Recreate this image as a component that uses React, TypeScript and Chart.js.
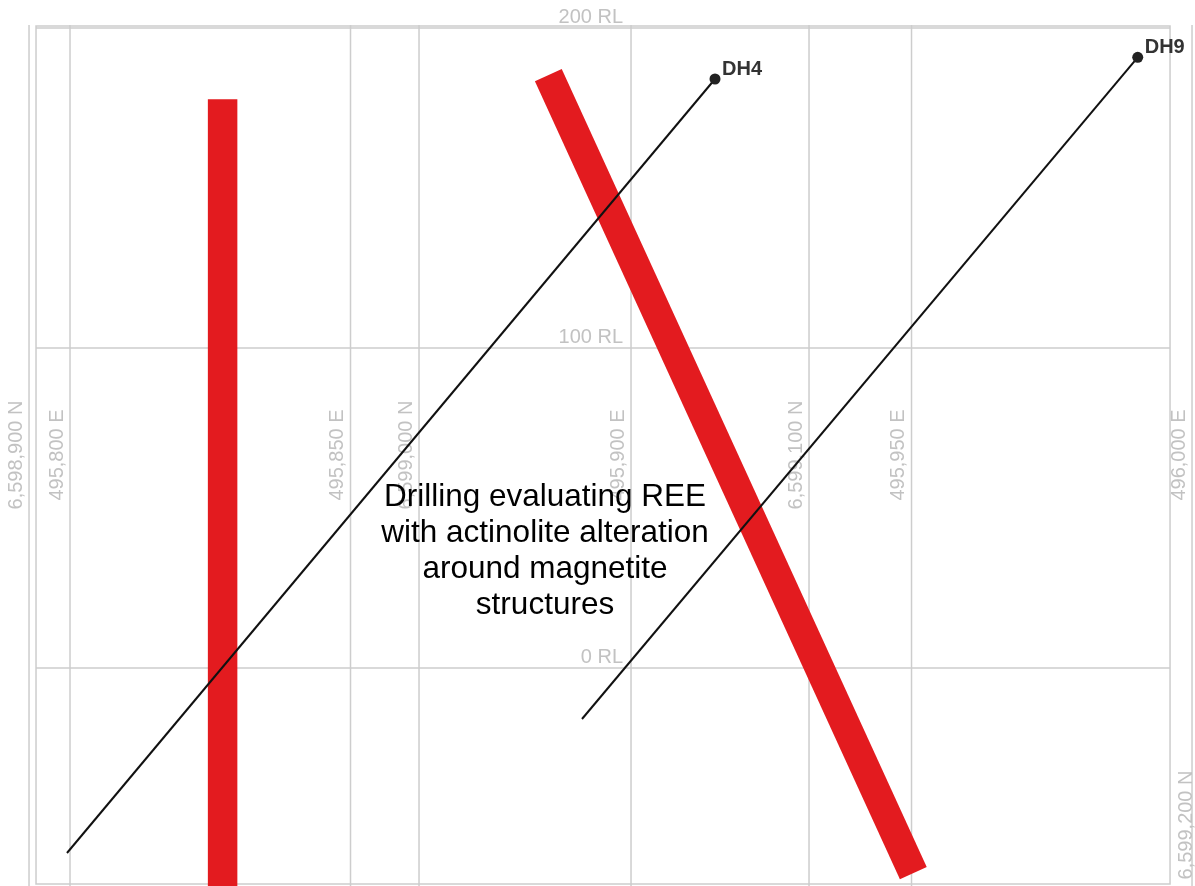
import React, { useEffect, useRef } from 'react';
import { Chart, registerables } from 'chart.js';

Chart.register(...registerables);

// ---- data ----
const eastingTicks = [495800, 495850, 495900, 495950, 496000];
const northingTicks = [6598900, 6599000, 6599100, 6599200];
const rlTicks = [200, 100, 0];

const holeNames = ['DH4', 'DH9'];
const dh4Trace = [
  { x: 495914.97, y: 184.06 },
  { x: 495799.46, y: -57.81 },
];
const dh9Trace = [
  { x: 495990.32, y: 190.85 },
  { x: 495891.26, y: -15.94 },
];
const structureWest = [
  { x: 495827.2, y: 177.7 },
  { x: 495827.2, y: -90 },
];
const structureEast = [
  { x: 495885.26, y: 185.25 },
  { x: 495950.32, y: -64.13 },
];

const noteLines = [
  'Drilling evaluating REE',
  'with actinolite alteration',
  'around magnetite',
  'structures',
];
const noteAnchor = { x: 495884.67, y: 50.6 };

// axis ranges
const eastRange = [495787.52, 496000.53];
const northRange = [6598892.56, 6599198.97];
const rlRange = [-68.125, 208.75];
const frameEast = [495793.94, 495996.08];
const frameRL = [-67.5, 200.625];
const gridLabelRL = [66.56, 66.56, 66.56, -49.06]; // label centre RL for N lines
const eastLabelRL = 66.56;

const FONT = 'Arial, "Liberation Sans", sans-serif';
const gridColor = '#cdcdcd';
const labelColor = '#c2c2c2';
const red = '#e31b1f';

const fmt = (v: number) => v.toLocaleString('en-US');

const sectionPlugin = {
  id: 'sectionGrid',
  beforeDatasetsDraw(chart: any) {
    const { ctx } = chart;
    const xs = chart.scales.x;
    const xn = chart.scales.xN;
    const ys = chart.scales.y;
    const fl = xs.getPixelForValue(frameEast[0]);
    const fr = xs.getPixelForValue(frameEast[1]);
    const ft = ys.getPixelForValue(frameRL[1]);
    const fb = ys.getPixelForValue(frameRL[0]);
    ctx.save();
    ctx.strokeStyle = gridColor;
    ctx.lineWidth = 1.5;
    const vline = (px: number) => {
      ctx.beginPath();
      ctx.moveTo(px, ft - 1);
      ctx.lineTo(px, chart.height);
      ctx.stroke();
    };
    eastingTicks.forEach((e) => vline(xs.getPixelForValue(e)));
    northingTicks.forEach((n) => vline(xn.getPixelForValue(n)));
    rlTicks.forEach((r) => {
      const py = ys.getPixelForValue(r);
      ctx.beginPath();
      ctx.moveTo(fl, py);
      ctx.lineTo(fr, py);
      ctx.stroke();
    });
    ctx.strokeRect(fl, ft, fr - fl, fb - ft);

    // labels
    ctx.fillStyle = labelColor;
    ctx.font = `20px ${FONT}`;
    ctx.textAlign = 'right';
    ctx.textBaseline = 'alphabetic';
    const rlX = xs.getPixelForValue(495900) - 8;
    rlTicks.forEach((r) => {
      ctx.fillText(`${r} RL`, rlX, ys.getPixelForValue(r) - 5);
    });
    const vlabel = (text: string, px: number, py: number) => {
      ctx.save();
      ctx.translate(px, py);
      ctx.rotate(-Math.PI / 2);
      ctx.textAlign = 'center';
      ctx.textBaseline = 'middle';
      ctx.fillText(text, 0, 0);
      ctx.restore();
    };
    eastingTicks.forEach((e) =>
      vlabel(`${fmt(e)} E`, xs.getPixelForValue(e) - 13, ys.getPixelForValue(eastLabelRL))
    );
    northingTicks.forEach((n, i) =>
      vlabel(`${fmt(n)} N`, xn.getPixelForValue(n) - 13, ys.getPixelForValue(gridLabelRL[i]))
    );
    ctx.restore();
  },
  afterDatasetsDraw(chart: any) {
    const { ctx } = chart;
    const xs = chart.scales.x;
    const ys = chart.scales.y;
    ctx.save();
    ctx.fillStyle = '#333333';
    ctx.font = `bold 20px ${FONT}`;
    ctx.textAlign = 'left';
    ctx.textBaseline = 'alphabetic';
    [dh4Trace, dh9Trace].forEach((trace, i) => {
      const px = xs.getPixelForValue(trace[0].x);
      const py = ys.getPixelForValue(trace[0].y);
      ctx.fillText(holeNames[i], px + 7, py - 4);
    });
    ctx.fillStyle = '#000000';
    ctx.font = `31.5px ${FONT}`;
    ctx.textAlign = 'center';
    const nx = xs.getPixelForValue(noteAnchor.x);
    const ny = ys.getPixelForValue(noteAnchor.y);
    noteLines.forEach((line, i) => ctx.fillText(line, nx, ny + i * 36));
    ctx.restore();
  },
};

export default function App() {
  const ref = useRef<HTMLCanvasElement | null>(null);
  useEffect(() => {
    document.body.style.margin = '0';
    if (!ref.current) return;
    const holeStyle = {
      showLine: true,
      borderColor: '#111111',
      borderWidth: 2,
      pointRadius: [5.5, 0],
      pointBackgroundColor: '#222222',
      pointBorderWidth: 0,
    };
    const structStyle = {
      showLine: true,
      borderColor: red,
      borderWidth: 29.5,
      borderCapStyle: 'butt',
      pointRadius: 0,
    };
    const chart = new Chart(ref.current, {
      type: 'scatter',
      data: {
        datasets: [
          { label: holeNames[0], data: dh4Trace, ...holeStyle },
          { label: holeNames[1], data: dh9Trace, ...holeStyle },
          { label: 'West structure', data: structureWest, ...structStyle },
          { label: 'East structure', data: structureEast, ...structStyle },
        ] as any,
      },
      options: {
        responsive: false,
        animation: false,
        events: [],
        layout: { padding: 0, autoPadding: false },
        plugins: { legend: { display: false }, tooltip: { enabled: false } },
        scales: {
          x: { type: 'linear', min: eastRange[0], max: eastRange[1], display: false },
          xN: {
            type: 'linear',
            axis: 'x',
            position: 'bottom',
            min: northRange[0],
            max: northRange[1],
            display: false,
          },
          y: { type: 'linear', min: rlRange[0], max: rlRange[1], display: false },
        } as any,
      },
      plugins: [sectionPlugin],
    });
    return () => chart.destroy();
  }, []);
  return (
    <canvas
      ref={ref}
      width={1195}
      height={886}
      style={{ display: 'block', width: 1195, height: 886 }}
    />
  );
}
